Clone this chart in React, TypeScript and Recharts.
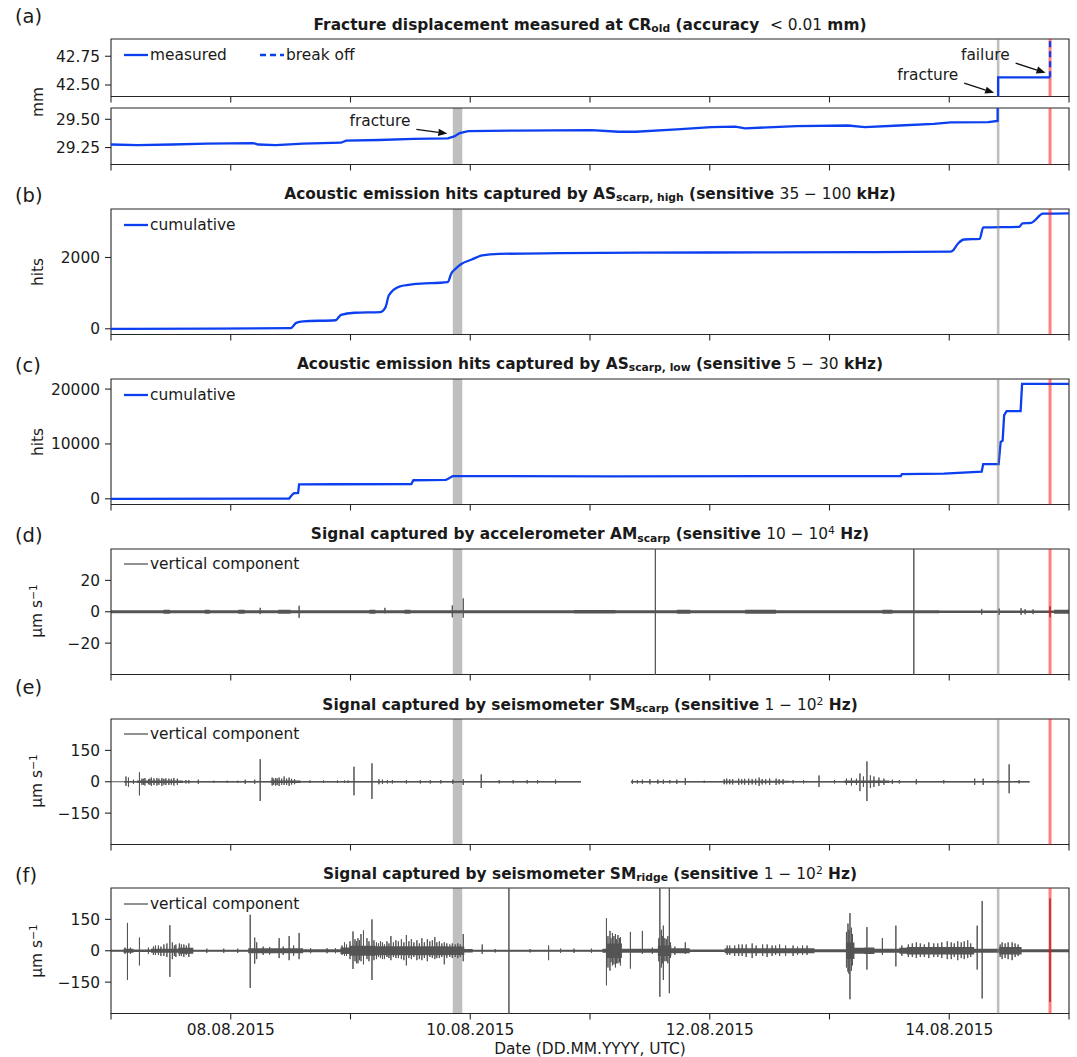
import React from 'react';
import { ComposedChart, Line, Area, XAxis, YAxis, ReferenceArea, ReferenceLine } from 'recharts';

const FONT = '"DejaVu Sans", sans-serif';
const TXT = '#1a1a1a';
const AXIS = '#262626';
const BLUE = '#0b3ff0';
const SIG = '#555555';
const FS = 15.4;

// x axis: hours since 07.08.2015 00:00 UTC
const dayTicks = [0, 24, 48, 72, 96, 120, 144, 168, 192];
const dateTickLabels = ['', '08.08.2015', '', '10.08.2015', '', '12.08.2015', '', '14.08.2015', ''];

const fractureSpan = [68.5, 70.4];
const fractureHour = 177.8;
const failureHour = 188.2;

// (a) crack meter CR_old
const crHours = [0, 5.4, 12.3, 19.2, 28.5, 29.5, 33, 38.5, 46.1, 47.1, 53.7, 60.6, 67.5, 68.8, 69.9, 71.6, 81.3, 96.3, 101.7, 105.2, 113.4, 120.3, 125.1, 127.1, 137.4, 147.7, 151.1, 158, 164.9, 168.3, 175.8, 177.7, 177.8, 188.2];
const crMm = [29.277, 29.271, 29.277, 29.284, 29.29, 29.277, 29.271, 29.284, 29.293, 29.311, 29.317, 29.326, 29.332, 29.348, 29.378, 29.396, 29.4, 29.405, 29.39, 29.39, 29.41, 29.43, 29.435, 29.42, 29.44, 29.445, 29.43, 29.445, 29.46, 29.472, 29.475, 29.485, 42.567, 42.567];
const breakHours = [188.2, 188.2];
const breakMm = [42.567, 42.95];

// annotation anchors (tail -> head, data coords)
const lowFracture = [[61.2, 29.41], [67.4, 29.374]];
const upFracture = [[171.0, 42.516], [177.0, 42.432]];
const upFailure = [[181.3, 42.69], [187.3, 42.606]];

// (b) AS scarp high, cumulative hits
const asHighHours = [0, 20, 36.0, 37.1, 38.5, 45.0, 46.1, 48.8, 54.0, 55.0, 55.7, 57.8, 60.6, 67.5, 68.2, 69.2, 70.2, 72.3, 74.4, 77.8, 90, 120, 150, 168.3, 168.6, 169.8, 171.0, 174.1, 174.8, 182.0, 182.7, 184.4, 186.8, 192];
const asHighHits = [0, 5, 20, 165, 210, 240, 390, 450, 470, 600, 940, 1185, 1250, 1310, 1550, 1700, 1816, 1942, 2058, 2100, 2120, 2140, 2150, 2166, 2180, 2400, 2505, 2520, 2842, 2860, 2958, 2970, 3228, 3240];

// (c) AS scarp low, cumulative hits
const asLowHours = [0, 35.7, 36.1, 36.6, 37.5, 37.7, 45, 60.2, 60.6, 67.1, 67.5, 68.5, 100, 158.3, 158.5, 166.9, 174.5, 174.8, 177.9, 178.3, 178.7, 179.0, 179.5, 182.3, 182.6, 192];
const asLowHits = [0, 50, 500, 1000, 1065, 2632, 2650, 2700, 3385, 3450, 3600, 4137, 4100, 4150, 4510, 4600, 4950, 6330, 6330, 10370, 10600, 15250, 15980, 15980, 20960, 20960];

// (d) accelerometer AM scarp: background envelope [hour, amp] and spikes [hour, up, down]
const amNoise = [[0, 1.0], [10.5, 1.3], [11.8, 1.0], [18.8, 1.2], [19.8, 1.0], [25.5, 1.3], [26.8, 1.0], [33.5, 1.3], [36, 1.0], [51.8, 1.3], [53, 1.0], [58.8, 1.2], [60, 1.0], [92.8, 1.15], [101.1, 1.0], [113.4, 1.3], [116.1, 1.0], [127.1, 1.25], [133.3, 1.0], [154.6, 1.35], [156.6, 1.0], [166, 0.75], [189, 1.3], [192, 1.3]];
const amSpikes = [[29.9, 2.5, 1.5], [37.7, 3.8, 3.9], [54.9, 2.5, 1.0], [68.4, 4.0, 3.5], [70.6, 8.5, 3.8], [109.1, 100, 100], [160.9, 100, 100], [174.5, 1.8, 1.8], [178.0, 2.0, 2.0], [182.4, 2.3, 2.0], [183.2, 1.6, 1.6], [184.8, 1.5, 1.5], [188.2, 3.5, 3.5]];

// (e) seismometer SM scarp
const smScarpSegments = [[0, 94.2], [104.2, 184.1]];
const smScarpNoise = [[0, 0.5], [2.6, 4], [5.2, 6], [13.6, 6], [14.4, 3], [32, 6], [37.2, 6], [38, 3], [94.2, 3], [94.3, null], [104.2, 4], [115.6, 3], [122.6, 5], [135, 5], [136, 3], [147, 6], [155, 6], [156, 3], [184.1, 3]];
const smScarpSpikes = [[3.0, 25, 20], [3.5, 20, 25], [4.5, 10, 10], [5.7, 45, 65], [6.2, 15, 15], [6.5, 14, 14], [6.8, 18, 18], [7.5, 12, 12], [7.8, 15, 15], [8.1, 20, 20], [8.6, 16, 16], [9.2, 18, 18], [9.6, 15, 15], [10.2, 18, 20], [10.6, 14, 14], [11.0, 16, 16], [11.6, 15, 15], [12.1, 14, 14], [12.6, 18, 18], [13.3, 15, 15], [15.0, 8, 8], [15.6, 8, 8], [17.5, 10, 10], [20.6, 5, 5], [23.3, 5, 5], [25.4, 5, 5], [26.9, 10, 10], [28.8, 10, 10], [29.9, 108, 92], [32.3, 20, 18], [32.6, 15, 15], [33.0, 18, 18], [33.3, 16, 16], [33.7, 20, 20], [34.2, 15, 15], [34.7, 25, 15], [35.2, 15, 15], [35.7, 20, 20], [36.2, 14, 14], [36.8, 12, 12], [39.9, 6, 6], [42.6, 6, 6], [45.4, 6, 6], [46.8, 6, 6], [47.5, 6, 6], [48.7, 72, 65], [52.3, 88, 82], [53.7, 12, 12], [54.4, 10, 10], [55.4, 8, 8], [56.4, 8, 8], [59.2, 8, 8], [62.0, 8, 8], [64.0, 8, 8], [66.1, 8, 8], [68.5, 10, 10], [70.6, 12, 15], [74.2, 35, 30], [77.8, 8, 8], [80.6, 8, 8], [83.4, 8, 8], [85.5, 8, 8], [89.1, 10, 10], [104.5, 10, 10], [105.5, 8, 8], [106.5, 10, 10], [108.0, 12, 12], [109.6, 10, 10], [110.7, 10, 10], [112.0, 8, 8], [113.4, 10, 10], [115.1, 18, 15], [118.9, 5, 5], [122.9, 12, 12], [123.4, 15, 12], [124.0, 12, 12], [124.6, 13, 13], [125.8, 15, 15], [126.4, 12, 12], [127.0, 14, 14], [127.8, 15, 15], [128.5, 13, 13], [129.2, 14, 14], [129.9, 20, 20], [130.5, 13, 13], [131.2, 12, 12], [132.0, 15, 15], [133.3, 15, 15], [133.9, 12, 12], [134.7, 12, 12], [136.7, 8, 8], [138.8, 8, 8], [141.9, 30, 25], [145.0, 8, 8], [147.4, 15, 15], [148.4, 18, 18], [149.4, 15, 15], [150.1, 40, 45], [150.8, 25, 25], [151.5, 97, 92], [152.2, 30, 30], [152.9, 25, 25], [153.9, 20, 20], [154.9, 15, 15], [156.6, 10, 10], [158.0, 8, 8], [161.4, 12, 12], [166.9, 8, 8], [173.1, 15, 15], [174.8, 15, 15], [177.8, 8, 8], [180.0, 83, 55], [182.0, 8, 8]];

// (f) seismometer SM ridge
const smRidgeNoise = [[0, 5], [2.5, 10], [4.5, 6], [8, 10], [13.5, 14], [16.5, 5], [27.5, 12], [31.5, 12], [32.5, 12], [38.5, 7], [46, 16], [47.8, 24], [53, 22], [67.5, 20], [70.8, 8], [72.5, 5], [98.5, 10], [99.3, 35], [102.4, 10], [109.6, 25], [112.3, 12], [116, 6], [123, 12], [141, 7], [147.3, 40], [149, 14], [151, 16], [153, 9], [158, 14], [159.5, 18], [173, 10], [178, 18], [182.5, 7], [192, 7]];
const smRidgeSpikes = [[2.8, 15, 15], [3.3, 133, 140], [3.9, 15, 15], [5.7, 63, 70], [7.5, 15, 15], [8.5, 20, 20], [8.9, 25, 20], [9.5, 25, 20], [10.0, 20, 25], [10.6, 30, 25], [11.2, 35, 30], [11.8, 122, 125], [12.3, 40, 40], [12.7, 25, 25], [13.0, 30, 30], [13.7, 35, 25], [14.1, 30, 25], [14.6, 30, 30], [15.1, 25, 20], [15.6, 35, 30], [19.2, 10, 10], [22.6, 10, 10], [25.4, 10, 10], [27.9, 172, 178], [28.8, 63, 62], [29.2, 40, 40], [30.5, 20, 20], [31.8, 18, 18], [33.7, 60, 35], [34.5, 20, 20], [35.7, 70, 45], [36.6, 25, 25], [37.7, 85, 40], [40.0, 12, 12], [43.3, 12, 12], [45.0, 12, 12], [46.3, 25, 20], [46.8, 40, 25], [47.2, 30, 25], [47.9, 45, 40], [48.5, 92, 87], [48.9, 55, 50], [49.2, 45, 60], [49.5, 60, 60], [49.8, 50, 45], [50.1, 80, 50], [50.6, 97, 65], [51.3, 60, 40], [51.7, 45, 50], [52.3, 150, 140], [52.7, 50, 45], [53.2, 40, 40], [53.6, 35, 30], [54.0, 45, 35], [54.4, 40, 40], [54.8, 30, 40], [55.3, 45, 30], [55.7, 35, 35], [56.1, 70, 45], [56.6, 40, 30], [57.1, 50, 35], [57.6, 45, 35], [58.2, 55, 40], [58.7, 40, 45], [59.2, 75, 70], [59.7, 45, 35], [60.2, 55, 40], [60.7, 40, 30], [61.3, 50, 45], [61.8, 35, 40], [62.3, 60, 45], [62.8, 40, 35], [63.4, 55, 50], [63.9, 45, 30], [64.4, 50, 35], [64.9, 65, 40], [65.3, 40, 35], [65.8, 45, 35], [66.3, 35, 30], [66.8, 40, 65], [67.3, 35, 35], [67.9, 30, 30], [68.4, 35, 35], [69.0, 30, 30], [69.5, 35, 35], [70.0, 30, 30], [70.6, 80, 50], [74.4, 30, 15], [77.0, 8, 8], [79.75, 400, 400], [84.0, 8, 8], [87.7, 25, 45], [90.1, 10, 10], [92.8, 10, 10], [96.3, 10, 10], [99.3, 155, 165], [99.6, 70, 80], [100.0, 95, 95], [100.2, 60, 55], [100.5, 85, 70], [100.8, 70, 65], [101.1, 80, 80], [101.3, 55, 60], [101.6, 75, 60], [101.9, 60, 55], [102.1, 65, 70], [104.1, 90, 85], [106.5, 95, 15], [108.5, 15, 15], [109.8, 60, 50], [110.0, 300, 220], [110.3, 100, 80], [110.5, 70, 60], [110.7, 120, 140], [111.0, 60, 50], [111.3, 55, 50], [111.6, 70, 60], [111.9, 300, 203], [112.1, 40, 35], [113.0, 20, 20], [115.1, 40, 15], [123.5, 25, 20], [124.0, 25, 20], [125.0, 25, 25], [125.8, 30, 25], [126.5, 30, 25], [127.3, 30, 30], [128.5, 35, 35], [129.3, 25, 25], [130.6, 30, 25], [131.5, 30, 30], [132.5, 25, 25], [133.2, 25, 20], [134.0, 30, 25], [135.2, 25, 25], [136.7, 25, 25], [137.6, 20, 20], [138.6, 25, 20], [139.5, 25, 20], [147.4, 90, 80], [147.7, 130, 100], [147.9, 100, 110], [148.1, 180, 232], [148.4, 110, 95], [148.6, 80, 70], [151.5, 113, 90], [154.6, 60, 20], [157.3, 120, 75], [158.5, 25, 25], [159.8, 30, 30], [160.6, 35, 30], [161.4, 40, 35], [162.2, 35, 30], [163.0, 30, 30], [163.9, 40, 35], [164.9, 35, 30], [165.7, 35, 30], [166.5, 40, 35], [167.6, 45, 40], [168.4, 40, 40], [169.0, 35, 30], [169.7, 45, 45], [170.4, 40, 35], [171.0, 45, 40], [171.7, 50, 35], [172.3, 35, 30], [173.6, 120, 90], [174.6, 238, 228], [178.2, 30, 30], [178.6, 40, 40], [179.2, 35, 35], [179.8, 40, 40], [180.6, 40, 45], [181.2, 35, 30], [181.8, 30, 25], [188.2, 250, 245]];

const zip = (hs: number[], vs: number[], key: string) => hs.map((h, i) => ({ h, [key]: vs[i] }));

// spikes as vertical strokes on a zero baseline
const buildTrace = (spikes: number[][], segments: number[][]) => {
  const out: { h: number; v: number | null }[] = [];
  segments.forEach(([s, e], i) => {
    if (i > 0) out.push({ h: s - 0.01, v: null });
    out.push({ h: s, v: 0 });
    spikes.filter(([h]) => h >= s && h <= e).forEach(([h, up, dn]) => {
      out.push({ h, v: 0 }, { h, v: up }, { h, v: -dn }, { h, v: 0 });
    });
    out.push({ h: e, v: 0 });
  });
  return out;
};
const buildBand = (env: (number | null)[][]) =>
  env.map(([h, a]) => ({ h, band: a === null ? null : [-(a as number), a as number] }));

const crData = zip(crHours, crMm, 'mm');
const breakData = zip(breakHours, breakMm, 'mm');
const asHighData = zip(asHighHours, asHighHits, 'hits');
const asLowData = zip(asLowHours, asLowHits, 'hits');

const minus = (s: string) => s.replace('-', '\u2212');

const arrowShape = (label: string) => (p: any) => {
  const x1 = Number(p.x1), y1 = Number(p.y1), x2 = Number(p.x2), y2 = Number(p.y2);
  const ang = Math.atan2(y2 - y1, x2 - x1);
  const L = 9, W = 3.6;
  const bx = x2 - L * Math.cos(ang), by = y2 - L * Math.sin(ang);
  const pts = `${x2},${y2} ${bx + W * Math.sin(ang)},${by - W * Math.cos(ang)} ${bx - W * Math.sin(ang)},${by + W * Math.cos(ang)}`;
  return (
    <g>
      <line x1={x1} y1={y1} x2={bx} y2={by} stroke="#111" strokeWidth={1.3} />
      <polygon points={pts} fill="#111" />
      <text x={x1 - 6} y={y1 - 8} textAnchor="end" dominantBaseline="central" fontSize={FS} fill={TXT}>{label}</text>
    </g>
  );
};

type PanelProps = {
  top: number;
  plotH: number;
  domain: [number, number];
  yTicks: number[];
  yFmt: (v: number) => string;
  dates?: boolean;
  band?: boolean;
  linesBelow?: boolean;
  children?: React.ReactNode;
};

function Panel({ top, plotH, domain, yTicks, yFmt, dates = false, band = true, linesBelow = false, children }: PanelProps) {
  const mt = 6;
  const xH = dates ? 32 : 8;
  const marks = [
    <ReferenceLine key="fr" x={fractureHour} stroke="#808080" strokeOpacity={0.5} strokeWidth={2.6} />,
    <ReferenceLine key="fa" x={failureHour} stroke="#ff0000" strokeOpacity={0.5} strokeWidth={3} />,
  ];
  return (
    <div style={{ position: 'absolute', left: 0, top: top - mt }}>
      <ComposedChart width={1077} height={mt + plotH + xH} margin={{ top: mt, right: 8, bottom: 0, left: 0 }}>
        <XAxis type="number" dataKey="h" domain={[0, 192]} ticks={dayTicks} interval={0} allowDataOverflow
          axisLine={false} tickLine={{ stroke: AXIS, strokeWidth: 1.1 }} tickSize={6} tickMargin={5} height={xH}
          tick={{ fill: TXT, fontSize: FS }} tickFormatter={(v: number) => (dates ? dateTickLabels[dayTicks.indexOf(v)] : '')} />
        <YAxis type="number" domain={domain} ticks={yTicks} interval={0} allowDataOverflow
          axisLine={false} tickLine={{ stroke: AXIS, strokeWidth: 1.1 }} tickSize={6} tickMargin={5} width={111}
          tick={{ fill: TXT, fontSize: FS }} tickFormatter={yFmt} />
        {band && <ReferenceArea x1={fractureSpan[0]} x2={fractureSpan[1]} fill="#808080" fillOpacity={0.5} stroke="none" />}
        {linesBelow && marks}
        {children}
        {!linesBelow && marks}
        <ReferenceArea x1={0} x2={192} y1={domain[0]} y2={domain[1]} fill="none" stroke={AXIS} strokeWidth={1.1} />
      </ComposedChart>
    </div>
  );
}

const Sub = ({ children }: { children: React.ReactNode }) => (
  <span style={{ fontSize: '0.7em', position: 'relative', top: '0.25em' }}>{children}</span>
);
const Sup = ({ children }: { children: React.ReactNode }) => (
  <span style={{ fontSize: '0.7em', position: 'relative', top: '-0.45em' }}>{children}</span>
);
const M = ({ children }: { children: React.ReactNode }) => <span style={{ fontWeight: 'normal' }}>{children}</span>;

const Title = ({ y, children }: { y: number; children: React.ReactNode }) => (
  <div style={{ position: 'absolute', left: 111, width: 958, top: y - 10, height: 20, lineHeight: '20px', textAlign: 'center', fontSize: FS, fontWeight: 'bold', whiteSpace: 'nowrap' }}>
    {children}
  </div>
);

const Letter = ({ y, text }: { y: number; text: string }) => (
  <div style={{ position: 'absolute', left: 15, top: y - 12, height: 24, lineHeight: '24px', fontSize: 19.5 }}>{text}</div>
);

const YLabel = ({ y, children }: { y: number; children: React.ReactNode }) => (
  <div style={{ position: 'absolute', left: 38, top: y, transform: 'translate(-50%, -50%) rotate(-90deg)', fontSize: FS, whiteSpace: 'nowrap', lineHeight: '20px' }}>
    {children}
  </div>
);

const LegendEntry = ({ x, y, color, width, dash, label }: { x: number; y: number; color: string; width: number; dash?: string; label: string }) => (
  <div style={{ position: 'absolute', left: x, top: y - 10, height: 20, display: 'flex', alignItems: 'center', fontSize: FS, whiteSpace: 'nowrap' }}>
    <svg width={26} height={20}>
      <line x1={1} y1={10} x2={25} y2={10} stroke={color} strokeWidth={width} strokeDasharray={dash} />
    </svg>
    <span style={{ marginLeft: 1 }}>{label}</span>
  </div>
);

const signal = (noise: (number | null)[][], spikes: number[][], segments: number[][]) => [
  <Area key="band" data={buildBand(noise)} dataKey="band" type="stepAfter" fill={SIG} fillOpacity={1} stroke="none" connectNulls={false} isAnimationActive={false} />,
  <Line key="trace" data={buildTrace(spikes, segments)} dataKey="v" type="linear" stroke={SIG} strokeWidth={1} dot={false} connectNulls={false} isAnimationActive={false} />,
];

const fmtInt = (v: number) => minus(String(v));

export default function App() {
  return (
    <div style={{ position: 'absolute', left: 0, top: 0, width: 1077, height: 1057, background: '#fff', fontFamily: FONT, color: TXT, overflow: 'hidden' }}>
      {/* (a) */}
      <Panel top={39} plotH={57.5} domain={[42.4, 42.9]} yTicks={[42.5, 42.75]} yFmt={(v) => v.toFixed(2)} band={false} linesBelow>
        <Line data={crData} dataKey="mm" stroke={BLUE} strokeWidth={2.3} dot={false} isAnimationActive={false} />
        <Line data={breakData} dataKey="mm" stroke={BLUE} strokeWidth={2.3} strokeDasharray="6 4" dot={false} isAnimationActive={false} />
        <ReferenceLine segment={[{ x: upFracture[0][0], y: upFracture[0][1] }, { x: upFracture[1][0], y: upFracture[1][1] }]} shape={arrowShape('fracture')} />
        <ReferenceLine segment={[{ x: upFailure[0][0], y: upFailure[0][1] }, { x: upFailure[1][0], y: upFailure[1][1] }]} shape={arrowShape('failure')} />
      </Panel>
      <Panel top={108} plotH={56.5} domain={[29.1, 29.6]} yTicks={[29.25, 29.5]} yFmt={(v) => v.toFixed(2)} linesBelow>
        <Line data={crData} dataKey="mm" stroke={BLUE} strokeWidth={2.3} dot={false} isAnimationActive={false} />
        <Line data={breakData} dataKey="mm" stroke={BLUE} strokeWidth={2.3} strokeDasharray="6 4" dot={false} isAnimationActive={false} />
        <ReferenceLine segment={[{ x: lowFracture[0][0], y: lowFracture[0][1] }, { x: lowFracture[1][0], y: lowFracture[1][1] }]} shape={arrowShape('fracture')} />
      </Panel>

      {/* (b) */}
      <Panel top={209} plotH={125.5} domain={[-160, 3360]} yTicks={[0, 2000]} yFmt={fmtInt}>
        <Line data={asHighData} dataKey="hits" type="monotone" stroke={BLUE} strokeWidth={2.3} dot={false} isAnimationActive={false} />
      </Panel>

      {/* (c) */}
      <Panel top={379} plotH={125.5} domain={[-1040, 21840]} yTicks={[0, 10000, 20000]} yFmt={fmtInt}>
        <Line data={asLowData} dataKey="hits" type="linear" stroke={BLUE} strokeWidth={2.3} dot={false} isAnimationActive={false} />
      </Panel>

      {/* (d) */}
      <Panel top={548.5} plotH={125.5} domain={[-40, 40]} yTicks={[-20, 0, 20]} yFmt={fmtInt}>
        {signal(amNoise, amSpikes, [[0, 192]])}
      </Panel>

      {/* (e) */}
      <Panel top={718.5} plotH={125.5} domain={[-300, 300]} yTicks={[-150, 0, 150]} yFmt={fmtInt}>
        {signal(smScarpNoise, smScarpSpikes, smScarpSegments)}
      </Panel>

      {/* (f) */}
      <Panel top={888.3} plotH={125.5} domain={[-300, 300]} yTicks={[-150, 0, 150]} yFmt={fmtInt} dates>
        {signal(smRidgeNoise, smRidgeSpikes, [[0, 192]])}
      </Panel>

      <Letter y={17} text="(a)" />
      <Letter y={195.5} text="(b)" />
      <Letter y={365.5} text="(c)" />
      <Letter y={535.5} text="(d)" />
      <Letter y={687.7} text="(e)" />
      <Letter y={875.5} text="(f)" />

      <Title y={24.8}>Fracture displacement measured at CR<Sub>old</Sub> (accuracy&nbsp; <M>&lt; 0.01</M> mm)</Title>
      <Title y={193.8}>Acoustic emission hits captured by AS<Sub>scarp, high</Sub> (sensitive <M>35 − 100</M> kHz)</Title>
      <Title y={363.8}>Acoustic emission hits captured by AS<Sub>scarp, low</Sub> (sensitive <M>5 − 30</M> kHz)</Title>
      <Title y={534}>Signal captured by accelerometer AM<Sub>scarp</Sub> (sensitive <M>10 − 10<Sup>4</Sup></M> Hz)</Title>
      <Title y={704.5}>Signal captured by seismometer SM<Sub>scarp</Sub> (sensitive <M>1 − 10<Sup>2</Sup></M> Hz)</Title>
      <Title y={873.8}>Signal captured by seismometer SM<Sub>ridge</Sub> (sensitive <M>1 − 10<Sup>2</Sup></M> Hz)</Title>

      <YLabel y={102}>mm</YLabel>
      <YLabel y={271.5}>hits</YLabel>
      <YLabel y={441.5}>hits</YLabel>
      <YLabel y={611}>μm s<Sup>−1</Sup></YLabel>
      <YLabel y={781}>μm s<Sup>−1</Sup></YLabel>
      <YLabel y={951}>μm s<Sup>−1</Sup></YLabel>

      <LegendEntry x={123} y={55} color={BLUE} width={2.3} label="measured" />
      <LegendEntry x={259} y={55} color={BLUE} width={2.3} dash="6 4" label="break off" />
      <LegendEntry x={123} y={224.8} color={BLUE} width={2.3} label="cumulative" />
      <LegendEntry x={123} y={394.8} color={BLUE} width={2.3} label="cumulative" />
      <LegendEntry x={123} y={564} color={SIG} width={1.3} label="vertical component" />
      <LegendEntry x={123} y={734} color={SIG} width={1.3} label="vertical component" />
      <LegendEntry x={123} y={904} color={SIG} width={1.3} label="vertical component" />

      <div style={{ position: 'absolute', left: 111, width: 958, top: 1039, height: 20, lineHeight: '20px', textAlign: 'center', fontSize: FS }}>
        Date (DD.MM.YYYY, UTC)
      </div>
    </div>
  );
}
